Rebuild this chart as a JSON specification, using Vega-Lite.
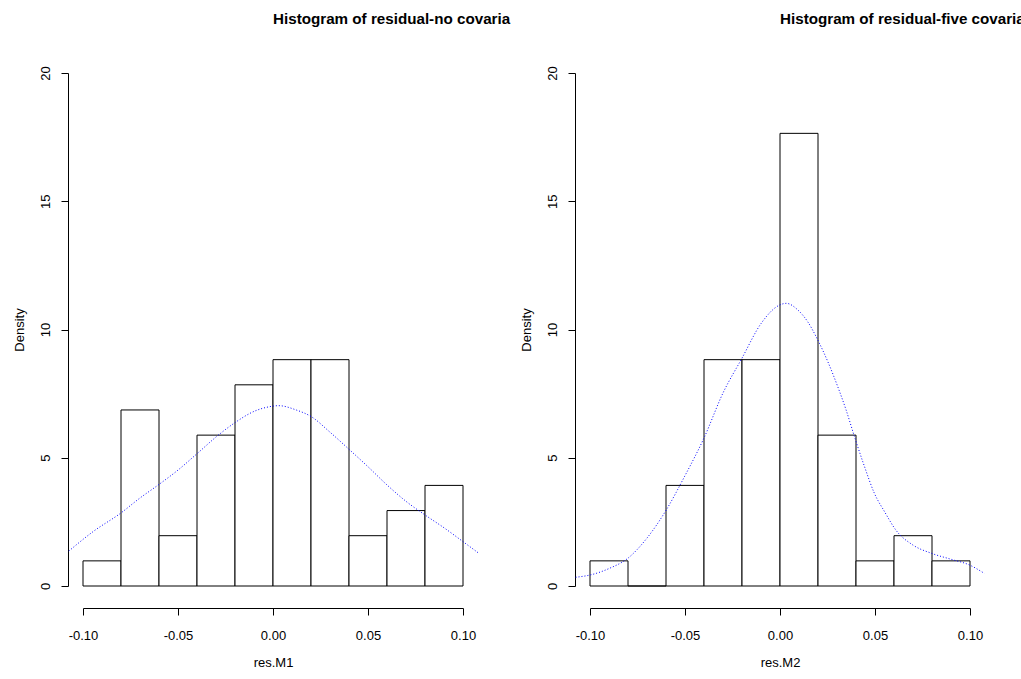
{
  "$schema": "https://vega.github.io/schema/vega-lite/v6.json",
  "background": "white",
  "padding": {"left": 13, "top": 11, "right": 0, "bottom": 0},
  "bounds": "flush",
  "spacing": 127,
  "config": {
    "view": {"stroke": null},
    "font": "Liberation Sans",
    "axis": {
      "domainColor": "black", "tickColor": "black", "labelColor": "black", "titleColor": "black",
      "labelFontSize": 13, "titleFontSize": 13, "titleFontWeight": "normal", "grid": false,
      "tickSize": 7, "labelFont": "Liberation Sans", "titleFont": "Liberation Sans",
      "labelOverlap": false, "labelFlush": false, "domainWidth": 1, "tickWidth": 1
    },
    "axisX": {"offset": 22, "labelPadding": 14, "titlePadding": 14},
    "axisY": {"offset": 15, "labelPadding": 9, "titlePadding": 13, "labelAngle": -90, "labelAlign": "center", "labelBaseline": "bottom"},
    "title": {"fontSize": 15.2, "fontWeight": "bold", "font": "Liberation Sans", "anchor": "start", "align": "left", "dx": 190, "frame": "group", "offset": 39, "color": "black"}
  },
  "datasets": {
    "bins1": [
      {"start": -0.10, "end": -0.08, "density": 0.980},
      {"start": -0.08, "end": -0.06, "density": 6.863},
      {"start": -0.06, "end": -0.04, "density": 1.961},
      {"start": -0.04, "end": -0.02, "density": 5.882},
      {"start": -0.02, "end": 0.00, "density": 7.843},
      {"start": 0.00, "end": 0.02, "density": 8.824},
      {"start": 0.02, "end": 0.04, "density": 8.824},
      {"start": 0.04, "end": 0.06, "density": 1.961},
      {"start": 0.06, "end": 0.08, "density": 2.941},
      {"start": 0.08, "end": 0.10, "density": 3.922}
    ],
    "bins2": [
      {"start": -0.10, "end": -0.08, "density": 0.980},
      {"start": -0.08, "end": -0.06, "density": 0},
      {"start": -0.06, "end": -0.04, "density": 3.922},
      {"start": -0.04, "end": -0.02, "density": 8.824},
      {"start": -0.02, "end": 0.00, "density": 8.824},
      {"start": 0.00, "end": 0.02, "density": 17.647},
      {"start": 0.02, "end": 0.04, "density": 5.882},
      {"start": 0.04, "end": 0.06, "density": 0.980},
      {"start": 0.06, "end": 0.08, "density": 1.961},
      {"start": 0.08, "end": 0.10, "density": 0.980}
    ],
    "dens1": [
      {"x": -0.1075, "y": 1.36}, {"x": -0.0947, "y": 2.12}, {"x": -0.0798, "y": 2.86},
      {"x": -0.0702, "y": 3.42}, {"x": -0.0600, "y": 3.96}, {"x": -0.0500, "y": 4.52},
      {"x": -0.0398, "y": 5.17}, {"x": -0.0298, "y": 5.82}, {"x": -0.0198, "y": 6.38},
      {"x": -0.0096, "y": 6.82}, {"x": -0.0018, "y": 6.99}, {"x": 0.0030, "y": 7.03},
      {"x": 0.0123, "y": 6.86}, {"x": 0.0202, "y": 6.60}, {"x": 0.0298, "y": 6.01},
      {"x": 0.0400, "y": 5.33}, {"x": 0.0500, "y": 4.65}, {"x": 0.0600, "y": 3.94},
      {"x": 0.0702, "y": 3.29}, {"x": 0.0800, "y": 2.77}, {"x": 0.0904, "y": 2.25},
      {"x": 0.1000, "y": 1.73}, {"x": 0.1079, "y": 1.30}
    ],
    "dens2": [
      {"x": -0.1076, "y": 0.34}, {"x": -0.0999, "y": 0.43}, {"x": -0.0897, "y": 0.69},
      {"x": -0.0801, "y": 1.08}, {"x": -0.0701, "y": 1.86}, {"x": -0.0599, "y": 2.96},
      {"x": -0.0503, "y": 4.26}, {"x": -0.0397, "y": 5.82}, {"x": -0.0301, "y": 7.51},
      {"x": -0.0201, "y": 8.87}, {"x": -0.0099, "y": 10.24}, {"x": -0.0003, "y": 10.95},
      {"x": 0.0033, "y": 11.02}, {"x": 0.0094, "y": 10.76}, {"x": 0.0146, "y": 10.30},
      {"x": 0.0199, "y": 9.59}, {"x": 0.0252, "y": 8.74}, {"x": 0.0304, "y": 7.77},
      {"x": 0.0348, "y": 6.86}, {"x": 0.0392, "y": 5.82}, {"x": 0.0445, "y": 4.65},
      {"x": 0.0497, "y": 3.61}, {"x": 0.0550, "y": 2.90}, {"x": 0.0612, "y": 2.16},
      {"x": 0.0699, "y": 1.60}, {"x": 0.0799, "y": 1.27}, {"x": 0.0901, "y": 1.04},
      {"x": 0.0997, "y": 0.82}, {"x": 0.1076, "y": 0.49}
    ]
  },
  "hconcat": [
    {
      "width": 380,
      "height": 513,
      "title": {"text": "Histogram of residual-no covaria"},
      "layer": [
        {
          "data": {"name": "bins1"},
          "mark": {"type": "rect", "fill": "white", "stroke": "black", "strokeWidth": 1},
          "encoding": {
            "x": {"field": "start", "type": "quantitative", "title": "res.M1",
                  "scale": {"domain": [-0.1, 0.1], "nice": false, "zero": false},
                  "axis": {"values": [-0.1, -0.05, 0, 0.05, 0.1], "labelExpr": "datum.value < 0 ? '-' + format(-datum.value, '.2f') : format(datum.value, '.2f')"}},
            "x2": {"field": "end"},
            "y": {"field": "density", "type": "quantitative", "title": "Density",
                  "scale": {"domain": [0, 20], "nice": false},
                  "axis": {"values": [0, 5, 10, 15, 20]}},
            "y2": {"datum": 0}
          }
        },
        {
          "data": {"name": "dens1"},
          "mark": {"type": "line", "color": "#0000FF", "strokeWidth": 1, "strokeDash": [1, 2], "interpolate": "monotone"},
          "encoding": {
            "x": {"field": "x", "type": "quantitative", "title": "res.M1"},
            "y": {"field": "y", "type": "quantitative", "title": "Density"}
          }
        }
      ]
    },
    {
      "width": 380,
      "height": 513,
      "title": {"text": "Histogram of residual-five covaria"},
      "layer": [
        {
          "data": {"name": "bins2"},
          "mark": {"type": "rect", "fill": "white", "stroke": "black", "strokeWidth": 1},
          "encoding": {
            "x": {"field": "start", "type": "quantitative", "title": "res.M2",
                  "scale": {"domain": [-0.1, 0.1], "nice": false, "zero": false},
                  "axis": {"values": [-0.1, -0.05, 0, 0.05, 0.1], "labelExpr": "datum.value < 0 ? '-' + format(-datum.value, '.2f') : format(datum.value, '.2f')"}},
            "x2": {"field": "end"},
            "y": {"field": "density", "type": "quantitative", "title": "Density",
                  "scale": {"domain": [0, 20], "nice": false},
                  "axis": {"values": [0, 5, 10, 15, 20]}},
            "y2": {"datum": 0}
          }
        },
        {
          "data": {"name": "dens2"},
          "mark": {"type": "line", "color": "#0000FF", "strokeWidth": 1, "strokeDash": [1, 2], "interpolate": "monotone"},
          "encoding": {
            "x": {"field": "x", "type": "quantitative", "title": "res.M2"},
            "y": {"field": "y", "type": "quantitative", "title": "Density"}
          }
        }
      ]
    }
  ]
}
